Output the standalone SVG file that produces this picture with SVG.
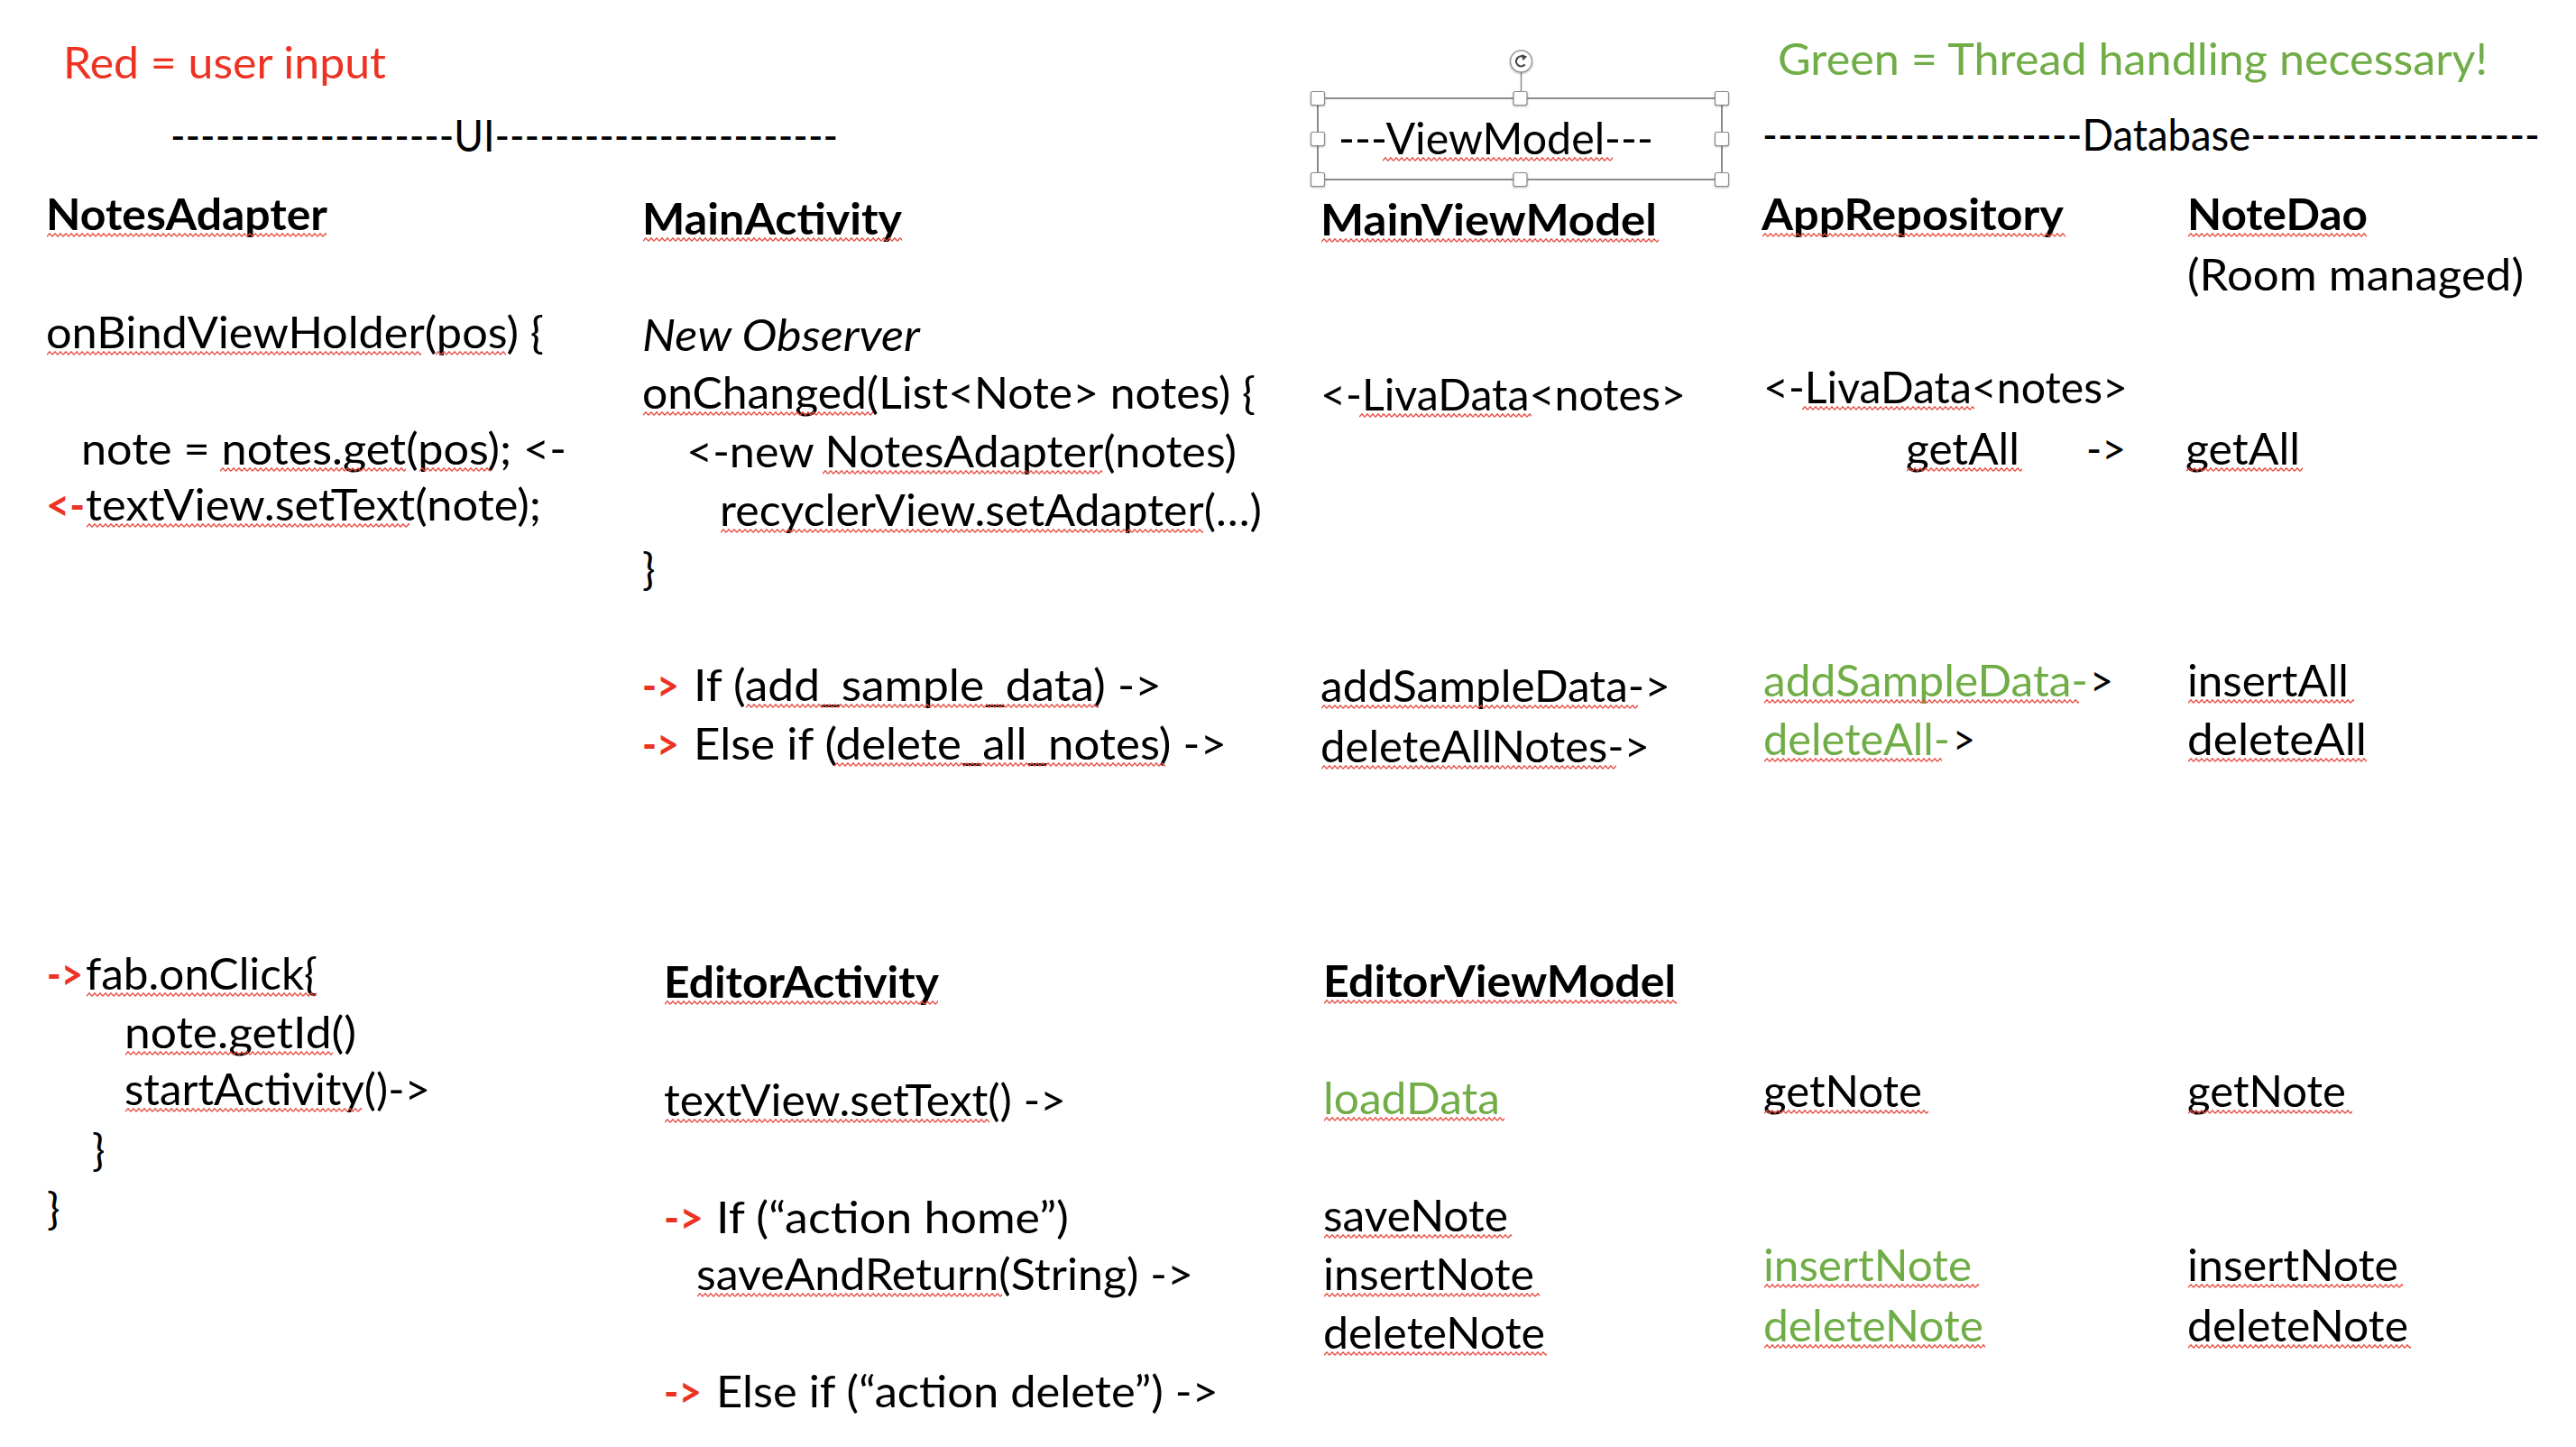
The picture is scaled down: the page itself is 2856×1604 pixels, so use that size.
<svg xmlns="http://www.w3.org/2000/svg" width="2856" height="1604" viewBox="0 0 2856 1604">
<defs>
<style>
text{font-family:Lato,"Open Sans","Liberation Sans",sans-serif;font-size:48px;fill:#000}
.b{font-weight:700}
.i{font-style:italic}
.r{fill:#EC3323}
.rb{fill:#EC3323;font-weight:700}
.g{fill:#70AD47}
.sq{fill:url(#sq)}
.hd{fill:#fff;stroke:#8a8a8a;stroke-width:1.2}
</style>
<pattern id="sq" width="6" height="5" patternUnits="userSpaceOnUse">
<path d="M0 4.2 L3 0.8 L6 4.2" fill="none" stroke="#E8463C" stroke-width="1.3"/>
</pattern>
<filter id="sh" x="-50%" y="-50%" width="200%" height="200%">
<feDropShadow dx="0" dy="1" stdDeviation="1.2" flood-color="#000" flood-opacity="0.3"/>
</filter>
</defs>
<rect width="2856" height="1604" fill="#fff"/>

<g id="legend">
<text x="70" y="87" class="r" textLength="358" lengthAdjust="spacingAndGlyphs">Red = user input</text>
<text x="1971" y="83" class="g" textLength="787" lengthAdjust="spacingAndGlyphs">Green = Thread handling necessary!</text>
</g>

<g id="ui-header">
<text x="189" y="168" textLength="740" lengthAdjust="spacingAndGlyphs">-------------------UI-----------------------</text>
</g>

<g id="viewmodel-header">
<line x1="1686.5" y1="80" x2="1686.5" y2="102" stroke="#8a8a8a" stroke-width="1.5"/>
<rect x="1461" y="109" width="448" height="90" fill="none" stroke="#8c8c8c" stroke-width="2"/>
<g filter="url(#sh)">
<rect class="hd" x="1453.5" y="101.5" width="15" height="15" rx="2"/>
<rect class="hd" x="1678" y="101.5" width="15" height="15" rx="2"/>
<rect class="hd" x="1901.5" y="101.5" width="15" height="15" rx="2"/>
<rect class="hd" x="1453.5" y="146.5" width="15" height="15" rx="2"/>
<rect class="hd" x="1901.5" y="146.5" width="15" height="15" rx="2"/>
<rect class="hd" x="1453.5" y="191.5" width="15" height="15" rx="2"/>
<rect class="hd" x="1678" y="191.5" width="15" height="15" rx="2"/>
<rect class="hd" x="1901.5" y="191.5" width="15" height="15" rx="2"/>
<circle cx="1686.5" cy="68" r="12" fill="#fff" stroke="#999" stroke-width="1.5"/>
</g>
<path d="M1690.7 71.5 A5.5 5.5 0 1 1 1689.3 63.2" fill="none" stroke="#444" stroke-width="2.2"/>
<path d="M1686.8 60.2 L1693.2 62.6 L1688.6 67.2 Z" fill="#444"/>
<text x="1484" y="171" textLength="349" lengthAdjust="spacingAndGlyphs">---ViewModel---</text>
</g>

<g id="database-header">
<text x="1954" y="167" textLength="862" lengthAdjust="spacingAndGlyphs">---------------------Database-------------------</text>
</g>

<g id="notes-adapter">
<text x="51" y="255" class="b" textLength="312" lengthAdjust="spacingAndGlyphs">NotesAdapter</text>
<text x="51" y="386" textLength="552" lengthAdjust="spacingAndGlyphs">onBindViewHolder(pos) {</text>
<text x="90" y="515" textLength="538" lengthAdjust="spacingAndGlyphs">note = notes.get(pos); &lt;-</text>
<text x="51" y="577" class="rb" textLength="43" lengthAdjust="spacingAndGlyphs">&lt;-</text>
<text x="95" y="577" textLength="505" lengthAdjust="spacingAndGlyphs">textView.setText(note);</text>
<text x="52" y="1097" class="rb" textLength="40" lengthAdjust="spacingAndGlyphs">-&gt;</text>
<text x="95" y="1097" textLength="257" lengthAdjust="spacingAndGlyphs">fab.onClick{</text>
<text x="138" y="1162" textLength="257" lengthAdjust="spacingAndGlyphs">note.getId()</text>
<text x="138" y="1225" textLength="339" lengthAdjust="spacingAndGlyphs">startActivity()-&gt;</text>
<text x="102" y="1292">}</text>
<text x="52" y="1357">}</text>
</g>

<g id="main-activity">
<text x="712" y="260" class="b" textLength="288" lengthAdjust="spacingAndGlyphs">MainActivity</text>
<text x="712" y="389" class="i" textLength="308" lengthAdjust="spacingAndGlyphs">New Observer</text>
<text x="712" y="453" textLength="680" lengthAdjust="spacingAndGlyphs">onChanged(List&lt;Note&gt; notes) {</text>
<text x="761" y="518" textLength="610" lengthAdjust="spacingAndGlyphs">&lt;-new NotesAdapter(notes)</text>
<text x="798" y="583" textLength="601" lengthAdjust="spacingAndGlyphs">recyclerView.setAdapter(…)</text>
<text x="712" y="648">}</text>
<text x="712" y="777" class="rb" textLength="41" lengthAdjust="spacingAndGlyphs">-&gt;</text>
<text x="769" y="777" textLength="519" lengthAdjust="spacingAndGlyphs">If (add_sample_data) -&gt;</text>
<text x="712" y="842" class="rb" textLength="41" lengthAdjust="spacingAndGlyphs">-&gt;</text>
<text x="769" y="842" textLength="591" lengthAdjust="spacingAndGlyphs">Else if (delete_all_notes) -&gt;</text>
</g>

<g id="editor-activity">
<text x="736" y="1106" class="b" textLength="305" lengthAdjust="spacingAndGlyphs">EditorActivity</text>
<text x="736" y="1237" textLength="446" lengthAdjust="spacingAndGlyphs">textView.setText() -&gt;</text>
<text x="736" y="1367" class="rb" textLength="44" lengthAdjust="spacingAndGlyphs">-&gt;</text>
<text x="794" y="1367" textLength="391" lengthAdjust="spacingAndGlyphs">If (“action home”)</text>
<text x="772" y="1430" textLength="551" lengthAdjust="spacingAndGlyphs">saveAndReturn(String) -&gt;</text>
<text x="736" y="1560" class="rb" textLength="42" lengthAdjust="spacingAndGlyphs">-&gt;</text>
<text x="794" y="1560" textLength="557" lengthAdjust="spacingAndGlyphs">Else if (“action delete”) -&gt;</text>
</g>

<g id="main-viewmodel">
<text x="1464" y="261" class="b" textLength="373" lengthAdjust="spacingAndGlyphs">MainViewModel</text>
<text x="1464" y="455" textLength="405" lengthAdjust="spacingAndGlyphs">&lt;-LivaData&lt;notes&gt;</text>
<text x="1464" y="778" textLength="388" lengthAdjust="spacingAndGlyphs">addSampleData-&gt;</text>
<text x="1464" y="845" textLength="365" lengthAdjust="spacingAndGlyphs">deleteAllNotes-&gt;</text>
</g>

<g id="editor-viewmodel">
<text x="1467" y="1105" class="b" textLength="391" lengthAdjust="spacingAndGlyphs">EditorViewModel</text>
<text x="1467" y="1235" class="g" textLength="196" lengthAdjust="spacingAndGlyphs">loadData</text>
<text x="1467" y="1365" textLength="205" lengthAdjust="spacingAndGlyphs">saveNote</text>
<text x="1467" y="1430" textLength="234" lengthAdjust="spacingAndGlyphs">insertNote</text>
<text x="1467" y="1495" textLength="246" lengthAdjust="spacingAndGlyphs">deleteNote</text>
</g>

<g id="app-repository">
<text x="1953" y="255" class="b" textLength="335" lengthAdjust="spacingAndGlyphs">AppRepository</text>
<text x="1955" y="447" textLength="404" lengthAdjust="spacingAndGlyphs">&lt;-LivaData&lt;notes&gt;</text>
<text x="2113" y="515" textLength="126" lengthAdjust="spacingAndGlyphs">getAll</text>
<text x="2313" y="515" textLength="44" lengthAdjust="spacingAndGlyphs">-&gt;</text>
<text x="1955" y="772" class="g" textLength="360" lengthAdjust="spacingAndGlyphs">addSampleData-</text>
<text x="2317" y="772" textLength="26" lengthAdjust="spacingAndGlyphs">&gt;</text>
<text x="1955" y="837" class="g" textLength="207" lengthAdjust="spacingAndGlyphs">deleteAll-</text>
<text x="2165" y="837" textLength="25" lengthAdjust="spacingAndGlyphs">&gt;</text>
<text x="1955" y="1227" textLength="176" lengthAdjust="spacingAndGlyphs">getNote</text>
<text x="1955" y="1420" class="g" textLength="231" lengthAdjust="spacingAndGlyphs">insertNote</text>
<text x="1955" y="1487" class="g" textLength="244" lengthAdjust="spacingAndGlyphs">deleteNote</text>
</g>

<g id="note-dao">
<text x="2425" y="255" class="b" textLength="200" lengthAdjust="spacingAndGlyphs">NoteDao</text>
<text x="2425" y="322" textLength="373" lengthAdjust="spacingAndGlyphs">(Room managed)</text>
<text x="2423" y="515" textLength="127" lengthAdjust="spacingAndGlyphs">getAll</text>
<text x="2425" y="772" textLength="179" lengthAdjust="spacingAndGlyphs">insertAll</text>
<text x="2425" y="837" textLength="199" lengthAdjust="spacingAndGlyphs">deleteAll</text>
<text x="2425" y="1227" textLength="176" lengthAdjust="spacingAndGlyphs">getNote</text>
<text x="2425" y="1420" textLength="234" lengthAdjust="spacingAndGlyphs">insertNote</text>
<text x="2425" y="1487" textLength="245" lengthAdjust="spacingAndGlyphs">deleteNote</text>
</g>

<g id="connectors"></g>

<g id="spellcheck">
<rect class="sq" transform="translate(52,258)" width="310" height="5"/>
<rect class="sq" transform="translate(52,389)" width="415" height="5"/>
<rect class="sq" transform="translate(483,389)" width="78" height="5"/>
<rect class="sq" transform="translate(244,518)" width="206" height="5"/>
<rect class="sq" transform="translate(465,518)" width="79" height="5"/>
<rect class="sq" transform="translate(96,580)" width="358" height="5"/>
<rect class="sq" transform="translate(96,1100)" width="255" height="5"/>
<rect class="sq" transform="translate(139,1165)" width="230" height="5"/>
<rect class="sq" transform="translate(139,1228)" width="262" height="5"/>
<rect class="sq" transform="translate(713,263)" width="287" height="5"/>
<rect class="sq" transform="translate(713,456)" width="255" height="5"/>
<rect class="sq" transform="translate(912,521)" width="310" height="5"/>
<rect class="sq" transform="translate(799,586)" width="535" height="5"/>
<rect class="sq" transform="translate(827,780)" width="391" height="5"/>
<rect class="sq" transform="translate(925,845)" width="367" height="5"/>
<rect class="sq" transform="translate(737,1109)" width="303" height="5"/>
<rect class="sq" transform="translate(737,1240)" width="360" height="5"/>
<rect class="sq" transform="translate(773,1433)" width="338" height="5"/>
<rect class="sq" transform="translate(1533,174)" width="255" height="5"/>
<rect class="sq" transform="translate(1465,264)" width="374" height="5"/>
<rect class="sq" transform="translate(1507,458)" width="191" height="5"/>
<rect class="sq" transform="translate(1465,781)" width="351" height="5"/>
<rect class="sq" transform="translate(1465,848)" width="327" height="5"/>
<rect class="sq" transform="translate(1468,1108)" width="391" height="5"/>
<rect class="sq" transform="translate(1468,1238)" width="200" height="5"/>
<rect class="sq" transform="translate(1468,1368)" width="208" height="5"/>
<rect class="sq" transform="translate(1468,1433)" width="239" height="5"/>
<rect class="sq" transform="translate(1468,1498)" width="247" height="5"/>
<rect class="sq" transform="translate(1954,258)" width="336" height="5"/>
<rect class="sq" transform="translate(1998,450)" width="191" height="5"/>
<rect class="sq" transform="translate(2114,518)" width="128" height="5"/>
<rect class="sq" transform="translate(1956,775)" width="349" height="5"/>
<rect class="sq" transform="translate(1956,840)" width="197" height="5"/>
<rect class="sq" transform="translate(1956,1230)" width="182" height="5"/>
<rect class="sq" transform="translate(1956,1423)" width="238" height="5"/>
<rect class="sq" transform="translate(1956,1490)" width="245" height="5"/>
<rect class="sq" transform="translate(2426,258)" width="198" height="5"/>
<rect class="sq" transform="translate(2424,518)" width="129" height="5"/>
<rect class="sq" transform="translate(2426,775)" width="184" height="5"/>
<rect class="sq" transform="translate(2426,840)" width="198" height="5"/>
<rect class="sq" transform="translate(2426,1230)" width="182" height="5"/>
<rect class="sq" transform="translate(2426,1423)" width="238" height="5"/>
<rect class="sq" transform="translate(2426,1490)" width="247" height="5"/>
</g>
</svg>
